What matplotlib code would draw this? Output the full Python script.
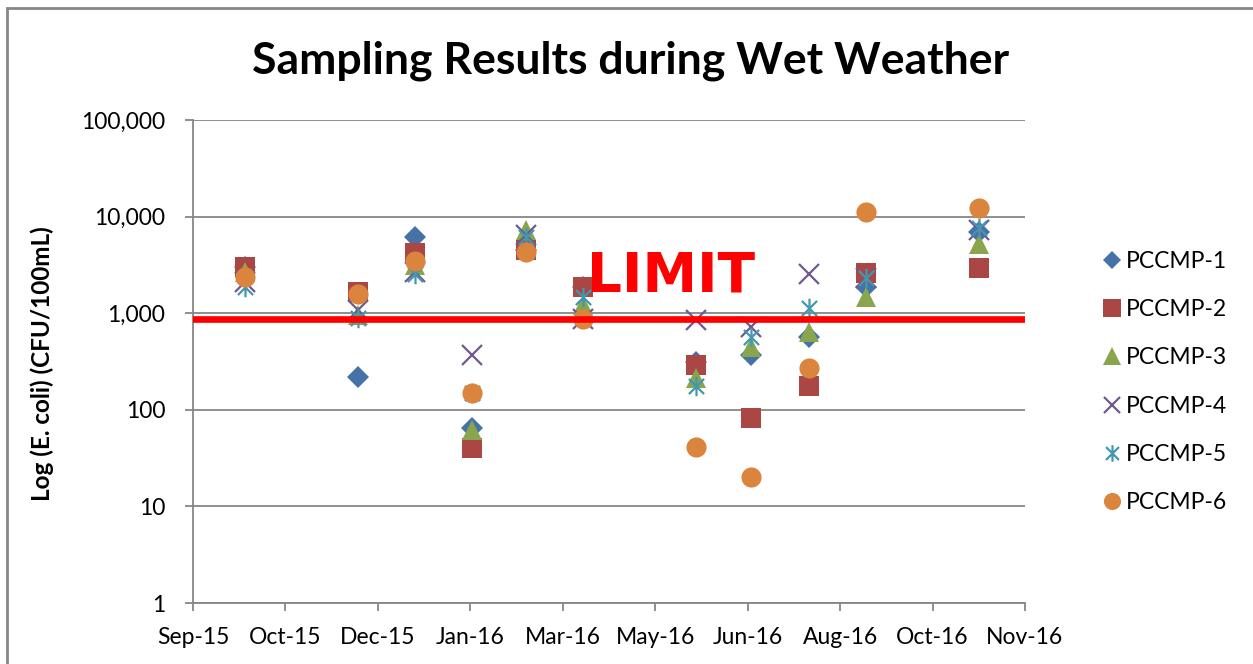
import matplotlib
matplotlib.use('Agg')
import matplotlib.pyplot as plt
import matplotlib.dates as mdates
from matplotlib.path import Path
from matplotlib.ticker import FixedLocator, FuncFormatter, NullLocator
from matplotlib.patches import Rectangle
import datetime as dt
import numpy as np

# ---------------- data ----------------
dates = ['2015-10-01', '2015-12-01', '2016-01-01', '2016-02-01', '2016-03-01',
         '2016-04-01', '2016-06-01', '2016-07-01', '2016-08-01', '2016-09-01',
         '2016-11-01']
pccmp1 = [3000, 218, 6180, 65, 4500, 1880, 316, 371, 573, 1880, 6970]
pccmp2 = [3000, 1670, 4170, 40, 4510, 1880, 292, 82, 175, 2630, 2960]
pccmp3 = [2700, 950, 3150, 62, 7250, 1220, 213, 452, 646, 1480, 5160]
pccmp4 = [2120, 1080, 2690, 371, 6440, 866, 853, 727, 2530, 2300, 7260]
pccmp5 = [1860, 890, 2550, 150, 6180, 1480, 175, 573, 1140, 2300, 7550]
pccmp6 = [2350, 1580, 3470, 151, 4330, 867, 41, 20, 270, 11040, 12330]
series_names = ['PCCMP-1', 'PCCMP-2', 'PCCMP-3', 'PCCMP-4', 'PCCMP-5', 'PCCMP-6']
limit_value = 870
y_ticks = [1, 10, 100, 1000, 10000, 100000]
title = 'Sampling Results during Wet Weather'
y_label = 'Log (E. coli) (CFU/100mL)'

# ---------------- style ----------------
plt.rcParams['font.family'] = ['Lato', 'DejaVu Sans']
W, H = 1253, 664
fig = plt.figure(figsize=(W / 100, H / 100), dpi=100)
ax = fig.add_axes([193 / W, 1 - 603 / H, (1025 - 193) / W, (603 - 120) / H])

asterisk = Path([(0, -1), (0, 1), (-0.78, -0.78), (0.78, 0.78), (-0.78, 0.78), (0.78, -0.78)],
                [Path.MOVETO, Path.LINETO] * 3)

styles = [
    dict(marker='D', color='#4572A7', ms=10.8, mew=0),
    dict(marker='s', color='#AA4643', ms=14.5, mew=0),
    dict(marker='^', color='#89A54E', ms=15, mew=0),
    dict(marker='x', color='#71588F', ms=14, mew=1.6),
    dict(marker=asterisk, color='#4198AF', ms=14, mew=1.6),
    dict(marker='o', color='#DB843D', ms=14.5, mew=0),
]

xd = mdates.datestr2num(dates)
all_series = [pccmp1, pccmp2, pccmp3, pccmp4, pccmp5, pccmp6]
for name, vals, st in zip(series_names, all_series, styles):
    ax.plot(xd, vals, linestyle='none', marker=st['marker'], color=st['color'],
            markersize=st['ms'], markeredgewidth=st['mew'], label=name, zorder=3)

ax.set_yscale('log')
ax.set_ylim(1, 100000)
ax.yaxis.set_major_locator(FixedLocator(y_ticks))
ax.yaxis.set_minor_locator(NullLocator())
ax.yaxis.set_major_formatter(FuncFormatter(lambda v, p: f'{v:,.0f}'))

x0 = mdates.date2num(dt.datetime(2015, 9, 3))
x_ticks = x0 + 50 * np.arange(10)
ax.set_xlim(x_ticks[0], x_ticks[-1])
ax.xaxis.set_major_locator(FixedLocator(x_ticks))
ax.xaxis.set_major_formatter(mdates.DateFormatter('%b-%y'))

grid_c = '#868686'
ax.grid(axis='y', color=grid_c, linewidth=1.3, zorder=0)
ax.set_axisbelow(True)
for s in ['top', 'right']:
    ax.spines[s].set_visible(False)
for s in ['left', 'bottom']:
    ax.spines[s].set_color(grid_c)
    ax.spines[s].set_linewidth(1.3)
ax.tick_params(axis='both', color=grid_c, width=1.3, length=6, labelsize=16.5,
               labelcolor='black')
ax.tick_params(axis='x', pad=11)
ax.tick_params(axis='y', pad=14)

# limit line and label
ax.axhline(limit_value, color='#FF0000', linewidth=4.8, zorder=5)
ax.text(0.574, 0.676, 'LIMIT', transform=ax.transAxes, color='#FF0000',
        fontsize=39.5, fontweight='bold', family='DejaVu Sans', ha='center', va='center', zorder=6)

fig.text(0.503, 1 - 61 / H, title, ha='center', va='center', fontsize=32, fontweight='bold')
fig.text(42 / W, 1 - 364 / H, y_label, ha='center', va='center', rotation=90,
         fontsize=17.5, fontweight='bold')

leg = ax.legend(loc='center left', bbox_to_anchor=(1090 / W, 1 - 382 / H),
                bbox_transform=fig.transFigure, frameon=False, fontsize=16.5,
                labelspacing=1.19, handlelength=0.9, handletextpad=0.15, borderpad=0,
                markerscale=0.85)

# chart border (left & top visible)
fig.patches.append(Rectangle((7 / W, -0.05), 1.2, 1 - 8 / H + 0.05, transform=fig.transFigure,
                             fill=False, edgecolor=grid_c, linewidth=2, zorder=0))

fig.savefig('out.png', dpi=100)
